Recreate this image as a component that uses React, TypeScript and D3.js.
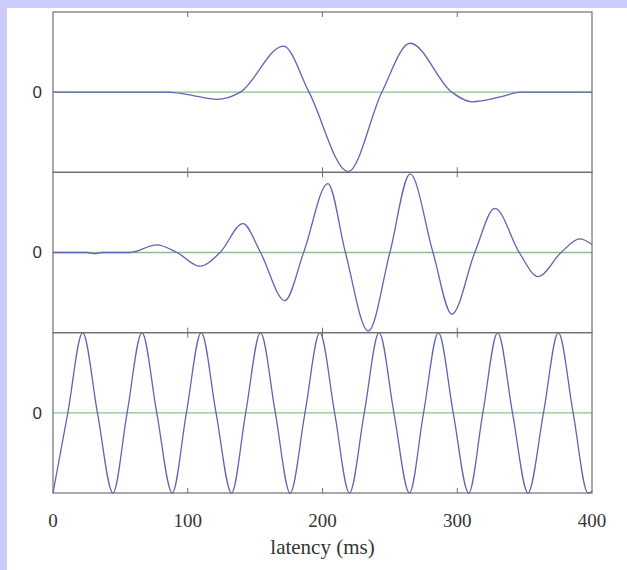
import React from "react";
import * as d3 from "d3";

// ---- data ----
const xTicks = [0, 100, 200, 300, 400];
const xLabel = "latency (ms)";
const yTickLabel = "0";

const latency1 = [0, 30, 85, 100, 122, 139, 171, 190, 219, 244, 265, 296, 311, 332, 347, 400];
const wave1 = [0, 0, 0, -0.03, -0.09, 0, 0.575, 0, -0.99, 0, 0.61, 0, -0.12, -0.06, 0, 0];

const latency2 = [0, 25, 31, 37, 57, 77, 92, 109, 124, 141, 154, 172, 186, 204, 217, 234, 250, 265, 282, 296, 313, 328, 346, 360, 377, 391, 400];
const wave2 = [0, 0, -0.015, 0, 0, 0.095, 0, -0.17, 0, 0.36, 0, -0.6, 0, 0.86, 0, -0.98, 0, 0.98, 0, -0.77, 0, 0.55, 0, -0.3, 0, 0.17, 0.1];

const latency3 = [0, 11, 22, 33, 44.5, 55, 66, 77, 88.5, 99, 110, 121, 132.5, 143, 154, 165, 176, 187, 198, 209, 220, 231, 242, 253, 264.5, 275, 286, 297, 308.5, 319, 330, 341, 352.5, 364, 375, 386, 397, 400];
const wave3 = [-1, 0, 1, 0, -1, 0, 1, 0, -1, 0, 1, 0, -1, 0, 1, 0, -1, 0, 1, 0, -1, 0, 1, 0, -1, 0, 1, 0, -1, 0, 1, 0, -1, 0, 1, 0, -1, -0.98];

const panels = [
  { x: latency1, y: wave1 },
  { x: latency2, y: wave2 },
  { x: latency3, y: wave3 },
];

export default function App() {
  const W = 627, H = 570;
  const left = 53, right = 592, top = 12, bottom = 493;
  const ph = (bottom - top) / 3;
  const x = d3.scaleLinear().domain([0, 400]).range([left, right]);
  const blue = "#6262b6";
  const green = "#8cbf8c";
  const frame = "#707070";

  return (
    <svg width={W} height={H} style={{ position: "absolute", left: 0, top: 0 }}>
      <rect x={0} y={0} width={W} height={H} fill="#ccccfc" />
      <rect x={7} y={8} width={W - 7} height={H - 8} fill="#ffffff" />
      {panels.map((p, i) => {
        const y0 = top + i * ph;
        const y = d3.scaleLinear().domain([-1, 1]).range([y0 + ph, y0]);
        const pts = p.x.map((v, k) => [v, p.y[k]] as [number, number]);
        const line = d3
          .line<[number, number]>()
          .x((d) => x(d[0]))
          .y((d) => y(d[1]))
          .curve(d3.curveMonotoneX);
        return (
          <g key={i}>
            <line x1={left} x2={right} y1={y(0)} y2={y(0)} stroke={green} strokeWidth={1.3} />
            <path d={line(pts) || ""} fill="none" stroke={blue} strokeWidth={1.3} />
            {xTicks.slice(1, -1).map((t) => (
              <g key={t}>
                <line x1={x(t)} x2={x(t)} y1={y0} y2={y0 + 5} stroke={frame} strokeWidth={1} />
                <line x1={x(t)} x2={x(t)} y1={y0 + ph} y2={y0 + ph - 5} stroke={frame} strokeWidth={1} />
              </g>
            ))}
            <rect x={left} y={y0} width={right - left} height={ph} fill="none" stroke={frame} strokeWidth={1.2} />
            <text
              x={left - 11}
              y={y(0)}
              dy="0.35em"
              textAnchor="end"
              fontFamily="Liberation Sans, Arial, sans-serif"
              fontSize={17}
              fill="#333"
            >
              {yTickLabel}
            </text>
          </g>
        );
      })}
      {xTicks.map((t) => (
        <text
          key={t}
          x={x(t)}
          y={527}
          textAnchor="middle"
          fontFamily="Liberation Serif, Times New Roman, serif"
          fontSize={19}
          fill="#333"
        >
          {t}
        </text>
      ))}
      <text
        x={x(200)}
        y={554}
        textAnchor="middle"
        fontFamily="Liberation Serif, Times New Roman, serif"
        fontSize={21}
        fill="#333"
      >
        {xLabel}
      </text>
    </svg>
  );
}
